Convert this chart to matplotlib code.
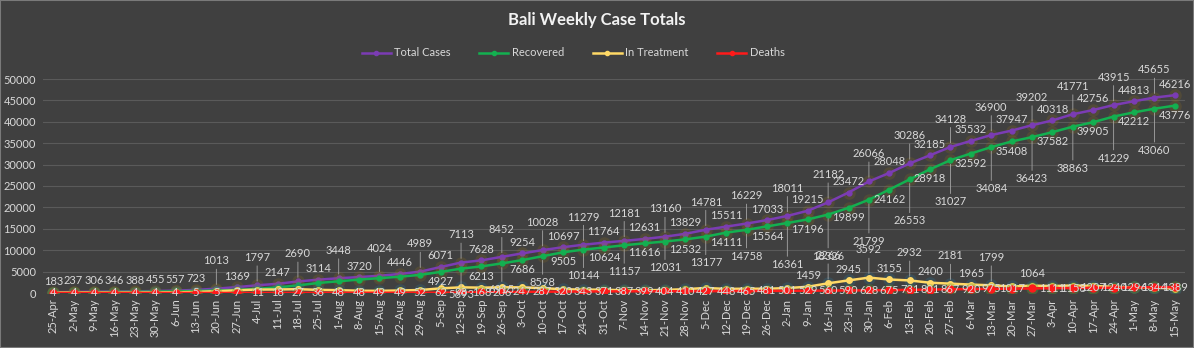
import numpy as np
import matplotlib.pyplot as plt
from matplotlib.lines import Line2D

plt.rcParams['font.family'] = ['Lato', 'DejaVu Sans']

weeks = ['25-Apr', '2-May', '9-May', '16-May', '23-May', '30-May', '6-Jun', '13-Jun',
         '20-Jun', '27-Jun', '4-Jul', '11-Jul', '18-Jul', '25-Jul', '1-Aug', '8-Aug',
         '15-Aug', '22-Aug', '29-Aug', '5-Sep', '12-Sep', '19-Sep', '26-Sep', '3-Oct',
         '10-Oct', '17-Oct', '24-Oct', '31-Oct', '7-Nov', '14-Nov', '21-Nov', '28-Nov',
         '5-Dec', '12-Dec', '19-Dec', '26-Dec', '2-Jan', '9-Jan', '16-Jan', '23-Jan',
         '30-Jan', '6-Feb', '13-Feb', '20-Feb', '27-Feb', '6-Mar', '13-Mar', '20-Mar',
         '27-Mar', '3-Apr', '10-Apr', '17-Apr', '24-Apr', '1-May', '8-May', '15-May']

total = [183, 237, 306, 346, 388, 455, 557, 723, 1013, 1369, 1797, 2147, 2690, 3114,
         3448, 3720, 4024, 4446, 4989, 6071, 7113, 7628, 8452, 9254, 10028, 10697,
         11279, 11764, 12181, 12631, 13160, 13829, 14781, 15511, 16229, 17033, 18011,
         19215, 21182, 23472, 26066, 28048, 30286, 32185, 34128, 35532, 36900, 37947,
         39202, 40318, 41771, 42756, 43915, 44813, 45655, 46216]

recovered = [89, 128, 190, 250, 280, 330, 390, 470, 590, 730, 980, 1310, 1770, 2350,
             2740, 3140, 3470, 3810, 4240, 4927, 5693, 6213, 6915, 7686, 8598, 9505,
             10144, 10624, 11157, 11616, 12031, 12532, 13177, 14111, 14758, 15564, 16361,
             17196, 18326, 19899, 21799, 24162, 26553, 28918, 31027, 32592, 34084, 35408,
             36423, 37582, 38863, 39905, 41229, 42212, 43060, 43776]

treatment = [90, 105, 112, 92, 104, 121, 163, 248, 418, 632, 806, 819, 893, 728,
             660, 532, 505, 587, 697, 1082, 1322, 1247, 1331, 1321, 1143, 872,
             792, 769, 637, 616, 725, 887, 1177, 952, 1006, 988, 1149,
             1459, 2266, 2945, 3592, 3155, 2932, 2400, 2181, 1965, 1799, 1522,
             1715, 1625, 1750, 1644, 1446, 1305, 1251, 1051]

deaths = [4, 4, 4, 4, 4, 4, 4, 5, 5, 7, 11, 18, 27, 36, 48, 48, 49, 49, 52, 62, 98,
          168, 206, 247, 287, 320, 343, 371, 387, 399, 404, 410, 427, 448, 465, 481,
          501, 529, 560, 590, 628, 675, 731, 801, 867, 920, 975, 1017, 1064, 1111,
          1158, 1207, 1240, 1296, 1344, 1389]

BG = '#404040'
TXT = '#d9d9d9'
LEAD = '#a6a6a6'

fig = plt.figure(figsize=(11.94, 3.48), dpi=100, facecolor=BG)
fig.patches.append(plt.Rectangle((0, 0), 1, 1, transform=fig.transFigure, fill=False,
                                 edgecolor='#7a7a7a', lw=1.5))
ax = fig.add_axes([43 / 1194, 55 / 348, 1142 / 1194, 214 / 348])
ax.set_facecolor(BG)

x = np.arange(len(weeks))

series = [
    ('Total Cases', total, '#7b3cb4', '#9a7418', 0.20, 3.5),
    ('Recovered', recovered, '#13b050', '#9a7418', 0.20, 3.5),
    ('In Treatment', treatment, '#ffd966', '#2f6f8f', 0.30, 4),
    ('Deaths', deaths, '#ff1a1a', '#5f9a2a', 0.35, 5),
]
handles = []
for i, (name, vals, col, glow, ga, ms) in enumerate(series):
    z = 3 + 2 * i
    ax.plot(x, vals, ls='none', marker='o', ms=9, color=glow, alpha=ga, mec='none', zorder=z)
    ax.plot(x, vals, color=col, lw=1.8, marker='o', ms=ms, mec=col, zorder=z + 1)
    handles.append(Line2D([], [], color=col, lw=1.8, marker='o', ms=3))

ax.set_xlim(-0.5, len(weeks) - 0.5)
ax.set_ylim(0, 50000)
ax.set_yticks(np.arange(0, 50001, 5000))
ax.set_xticks(x)
ax.set_xticklabels(weeks, rotation=90)
ax.tick_params(axis='both', length=0, colors=TXT, labelsize=8)
ax.tick_params(axis='y', pad=5)
ax.tick_params(axis='x', pad=4)
ax.grid(axis='y', color='#5a5a5a', lw=0.8)
ax.set_axisbelow(True)
for s in ax.spines.values():
    s.set_visible(False)


def label(i, v, dy, va, leader=False):
    ax.annotate(str(v), (i, v), xytext=(0, dy), textcoords='offset points',
                ha='center', va=va, fontsize=8, color=TXT, annotation_clip=False,
                zorder=20,
                arrowprops=dict(arrowstyle='-', color=LEAD, lw=0.6, shrinkA=0, shrinkB=3)
                if leader else None)


# total cases: alternating near / raised labels
for i, v in enumerate(total):
    if i >= 8 and i % 2 == 0:
        label(i, v, 16, 'bottom', leader=True)
    else:
        label(i, v, 4, 'bottom')

# recovered: labelled from September onwards, below the line
for i, v in enumerate(recovered):
    if i < 19:
        continue
    if i % 2 == 0:
        far = -15 if v < 15000 else -26
        label(i, v, far, 'top', leader=True)
    else:
        label(i, v, -3, 'top')

# in treatment around the January peak
for i in range(37, 47):
    v = treatment[i]
    if i % 2 == 0:
        label(i, v, 16, 'bottom', leader=True)
    else:
        label(i, v, 4, 'bottom')

# deaths sit on the line
for i, v in enumerate(deaths):
    if i == 48:
        label(i, v, 7, 'bottom')
    else:
        label(i, v, 0, 'center')

fig.text(0.5, 1 - 20 / 348, 'Bali Weekly Case Totals', ha='center', va='center',
         fontsize=12, fontweight='bold', color='#f2f2f2')
fig.legend(handles, [s[0] for s in series], loc='center', bbox_to_anchor=(0.48, 1 - 53 / 348),
           ncol=4, frameon=False, fontsize=8, labelcolor=TXT, handlelength=2.6,
           columnspacing=2.6, handletextpad=0.3)

fig.savefig('out.png', dpi=100, facecolor=BG)
